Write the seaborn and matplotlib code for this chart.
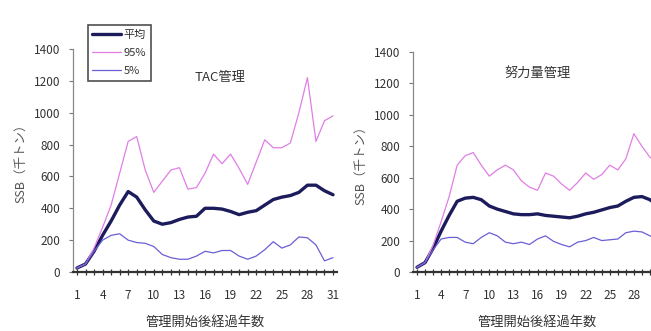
import matplotlib
matplotlib.use("Agg")
import matplotlib.pyplot as plt
import seaborn as sns
import pandas as pd
import numpy as np

sns.set_theme(style="white")
plt.rcParams['font.family'] = ['Noto Sans CJK JP', 'DejaVu Sans']

years = list(range(1, 32))
xticks = list(range(1, 32, 3))
yticks = [0, 200, 400, 600, 800, 1000, 1200, 1400]

# TAC管理
tac_mean = [25, 50, 130, 230, 320, 420, 505, 470, 390, 320, 300, 310, 330, 345, 350,
            400, 400, 395, 380, 360, 375, 385, 420, 455, 470, 480, 500, 545, 545, 510, 485]
tac_95 = [25, 50, 150, 280, 420, 620, 820, 850, 640, 500, 570, 640, 655, 520, 530,
          620, 740, 680, 740, 650, 550, 690, 830, 780, 780, 810, 1000, 1220, 820, 950, 980]
tac_5 = [25, 50, 130, 200, 230, 240, 200, 185, 180, 160, 110, 90, 80, 80, 100,
         130, 120, 135, 135, 100, 80, 100, 140, 190, 150, 170, 220, 215, 170, 70, 90]

# 努力量管理
eff_mean = [30, 60, 150, 260, 360, 450, 470, 475, 460, 420, 400, 385, 370, 365, 365,
            370, 360, 355, 350, 345, 355, 370, 380, 395, 410, 420, 450, 475, 480, 460, 420]
eff_95 = [30, 60, 170, 320, 480, 680, 740, 760, 680, 610, 650, 680, 650, 580, 540,
          520, 630, 610, 560, 520, 570, 630, 590, 620, 680, 650, 720, 880, 800, 730, 700]
eff_5 = [30, 60, 140, 210, 220, 220, 190, 180, 220, 250, 230, 190, 180, 190, 175,
         210, 230, 195, 175, 160, 190, 200, 220, 200, 205, 210, 250, 260, 255, 230, 210]

labels = ["平均", "95%", "5%"]
titles = ["TAC管理", "努力量管理"]
xlabel = "管理開始後経過年数"
ylabel = "SSB（千トン）"

colors = ["#1c1c5c", "#e07ee6", "#6a5fd6"]
widths = [2.4, 0.9, 0.9]

fig = plt.figure(figsize=(6.51, 3.31), dpi=100)
ax1 = fig.add_axes([72.7/651, 1-272/331, (337.3-72.7)/651, (272-49)/331])
ax2 = fig.add_axes([413/651, 1-272/331, (662-413)/651, (272-52)/331])

datasets = [(tac_mean, tac_95, tac_5), (eff_mean, eff_95, eff_5)]
title_pos = [(0.557, 0.874), (0.502, 0.905)]

for ax, data, title, tpos in zip([ax1, ax2], datasets, titles, title_pos):
    for vals, lab, c, w in zip(data, labels, colors, widths):
        df = pd.DataFrame({"year": years, "ssb": vals})
        sns.lineplot(data=df, x="year", y="ssb", ax=ax, color=c, linewidth=w,
                     label=lab, legend=False)
    ax.set_xlim(0.5, 31.5)
    ax.set_ylim(0, 1400)
    ax.set_xticks(xticks)
    ax.set_xticks(years, minor=True)
    ax.set_yticks(yticks)
    ax.tick_params(axis='x', which='both', direction='inout', length=4, width=0.9,
                   color='#333333', labelsize=8.5, labelcolor='#333333', pad=10,
                   bottom=True)
    ax.tick_params(axis='y', direction='out', length=3, width=0.8, color='#777777',
                   labelsize=8.5, labelcolor='#333333', pad=6, left=True)
    for s in ['top', 'right']:
        ax.spines[s].set_visible(False)
    ax.spines['left'].set_color('#888888')
    ax.spines['left'].set_linewidth(0.9)
    ax.spines['bottom'].set_color('#333333')
    ax.spines['bottom'].set_linewidth(1.6)
    ax.set_xlabel(xlabel, fontsize=9.5, color='#333333', labelpad=10)
    ax.set_ylabel(ylabel, fontsize=9, color='#555555', labelpad=5)
    ax.text(tpos[0], tpos[1], title, transform=ax.transAxes, ha='center', va='center',
            fontsize=9.5, color='#333333')

handles, labs = ax1.get_legend_handles_labels()
leg = fig.legend(handles, labs, loc='upper left', bbox_to_anchor=(88/651, 1-25/331),
                 bbox_transform=fig.transFigure, frameon=True, fancybox=False,
                 fontsize=8, handlelength=2.6, handletextpad=0.2, labelspacing=0.75,
                 borderpad=0.4, borderaxespad=0)
leg.get_frame().set_edgecolor('#222222')
leg.get_frame().set_linewidth(1.2)
for t in leg.get_texts():
    t.set_color('#333333')

fig.savefig("out.png", dpi=100)
